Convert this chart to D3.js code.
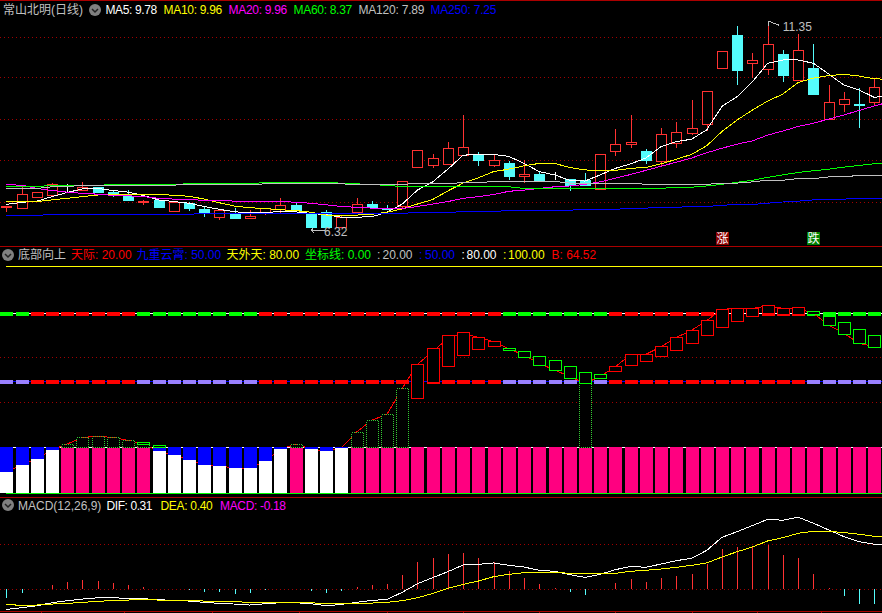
<!DOCTYPE html>
<html><head><meta charset="utf-8">
<script src="https://cdn.jsdelivr.net/npm/d3@7"></script>
<style>
html,body{margin:0;padding:0;background:#000;overflow:hidden}
svg{display:block}
text{font-family:"Liberation Sans",Arial,"Noto Sans CJK SC",sans-serif;font-size:12px}
</style></head><body><svg id="c" width="882" height="613"></svg>
<script>
// ---------- price panel data ----------
const opens=[6.79,6.79,7.04,7.08,7.26,7.22,7.30,7.17,7.07,6.92,6.99,6.72,6.90,6.76,6.56,6.67,6.56,6.67,6.75,6.86,6.64,6.69,6.32,6.67,6.88,6.78,6.83,7.78,7.84,7.84,8.06,8.08,7.84,7.88,7.55,7.61,7.51,7.48,7.46,7.24,8.16,8.33,8.17,7.91,8.35,8.62,8.82,10.18,11.00,10.31,10.16,10.54,9.89,10.20,8.95,9.30,9.32,9.36];
const closes=[6.82,7.12,7.17,7.36,7.26,7.30,7.17,7.09,6.98,6.95,6.81,6.93,6.78,6.66,6.73,6.56,6.60,6.78,6.85,6.73,6.32,6.32,6.56,6.87,6.81,6.75,7.43,8.19,8.00,8.24,8.26,7.95,7.95,7.57,7.60,7.47,7.51,7.34,7.35,8.09,8.34,8.39,7.96,8.58,8.63,8.73,9.63,10.60,10.15,10.39,10.78,10.03,10.63,9.56,9.36,9.43,9.30,9.73];
const highs=[6.84,7.29,7.17,7.39,7.37,7.41,7.30,7.21,7.22,6.98,6.99,6.93,6.93,6.82,6.73,6.78,6.73,6.78,7.02,6.90,6.65,6.73,6.61,7.02,6.95,6.86,7.43,8.19,8.10,8.39,9.05,8.15,8.10,7.93,7.95,7.69,7.65,7.50,7.64,8.09,8.71,9.05,8.22,8.73,8.88,9.42,9.63,10.60,11.22,10.56,11.35,10.64,11.03,10.78,9.78,9.60,9.71,9.95];
const lows=[6.69,6.79,7.04,7.08,7.17,7.22,7.14,7.06,6.98,6.86,6.78,6.69,6.72,6.56,6.49,6.56,6.52,6.62,6.65,6.73,6.32,6.32,6.32,6.67,6.81,6.75,6.78,7.78,7.77,7.84,8.06,7.81,7.79,7.47,7.40,7.43,7.47,7.20,7.33,7.24,8.06,8.25,7.86,7.79,8.25,8.56,8.65,10.18,9.78,9.95,10.03,9.86,9.89,9.56,8.95,9.13,8.74,9.26];
const ma5=[6.87,6.92,6.95,7.06,7.16,7.25,7.26,7.21,7.17,7.09,6.98,6.94,6.90,6.82,6.75,6.69,6.67,6.68,6.69,6.69,6.65,6.62,6.56,6.56,6.57,6.68,6.88,7.22,7.42,7.73,8.07,8.09,8.09,8.04,7.87,7.67,7.59,7.46,7.44,7.59,7.75,7.86,8.00,8.28,8.40,8.46,8.69,9.26,9.50,9.86,10.31,10.39,10.39,10.31,10.05,9.78,9.66,9.48,9.52];
const ma10=[6.94,6.93,6.94,6.98,7.02,7.06,7.10,7.10,7.12,7.12,7.12,7.09,7.07,7.00,6.91,6.83,6.79,6.77,6.74,6.72,6.68,6.61,6.59,6.61,6.63,6.68,6.76,6.88,6.99,7.20,7.39,7.52,7.67,7.73,7.81,7.87,7.87,7.77,7.71,7.70,7.70,7.75,7.77,7.86,7.97,8.09,8.30,8.65,8.93,9.17,9.39,9.56,9.84,9.95,10.01,10.04,10.00,9.93,9.92];
const ma20=[7.35,7.34,7.26,7.21,7.17,7.14,7.12,7.09,7.08,7.06,7.02,7.00,6.99,6.97,6.97,6.95,6.95,6.93,6.95,6.92,6.90,6.86,6.82,6.80,6.78,6.76,6.77,6.82,6.88,6.94,7.02,7.06,7.11,7.19,7.22,7.26,7.30,7.32,7.36,7.42,7.51,7.60,7.70,7.80,7.90,8.00,8.13,8.24,8.34,8.42,8.56,8.66,8.77,8.85,8.95,9.05,9.16,9.27,9.37];
const ma60=[7.31,7.31,7.31,7.33,7.33,7.33,7.33,7.36,7.36,7.35,7.35,7.35,7.38,7.38,7.38,7.38,7.38,7.40,7.40,7.40,7.40,7.40,7.39,7.37,7.36,7.33,7.31,7.31,7.31,7.31,7.31,7.30,7.30,7.30,7.26,7.26,7.26,7.26,7.26,7.26,7.26,7.26,7.26,7.26,7.29,7.29,7.32,7.36,7.41,7.46,7.53,7.59,7.65,7.69,7.73,7.78,7.82,7.86,7.87];
const ma120=[7.26,7.26,7.26,7.30,7.30,7.34,7.34,7.32,7.32,7.34,7.34,7.34,7.36,7.36,7.36,7.36,7.36,7.37,7.37,7.37,7.37,7.37,7.37,7.36,7.36,7.36,7.36,7.38,7.38,7.38,7.40,7.40,7.43,7.43,7.43,7.43,7.43,7.39,7.39,7.39,7.39,7.39,7.36,7.36,7.36,7.36,7.36,7.39,7.39,7.42,7.46,7.46,7.50,7.50,7.54,7.54,7.58,7.58,7.58];
const ma250=[6.60,6.60,6.60,6.63,6.63,6.63,6.63,6.63,6.63,6.63,6.63,6.63,6.63,6.65,6.65,6.65,6.65,6.65,6.65,6.65,6.65,6.65,6.65,6.65,6.65,6.65,6.65,6.68,6.68,6.68,6.69,6.69,6.69,6.73,6.73,6.73,6.73,6.73,6.75,6.75,6.75,6.78,6.78,6.80,6.80,6.82,6.82,6.85,6.87,6.87,6.90,6.93,6.95,6.98,6.98,7.00,7.02,7.02,7.02];
const priceGrid=[10.96,9.97,8.95,7.95,6.92];
// ---------- indicator panel data ----------
const bValues=[9.1,12.2,14.9,18.9,21.5,24.4,24.9,24.4,23.1,21.5,18.4,16.6,14.4,12.2,11.8,10.9,10.9,14.0,19.3,21.4,19.3,18.4,19.7,26.8,32.0,34.6,46.1,56.7,62.3,68.2,70.4,68.6,66.7,63.5,60.8,57.1,54.2,51.3,48.3,51.3,55.7,61.0,61.1,64.5,68.6,71.7,76.1,81.0,81.4,81.4,82.5,81.4,81.4,79.2,74.1,70.4,66.0,64.52];
const boxHigh=[null,null,null,null,null,null,null,null,null,22.2,20.9,null,null,null,null,null,null,null,null,null,null,null,null,null,null,null,null,56.7,63.8,69.5,70.8,68.6,66.9,63.8,62.4,60.2,58.5,55.8,53.2,52.3,55.8,61.1,61.1,64.7,68.6,71.7,76.1,81.0,81.4,81.4,82.8,81.4,81.9,80.1,77.9,75.3,72.2,69.5];
const boxLow=[null,null,null,null,null,null,null,null,null,21.5,20.2,null,null,null,null,null,null,null,null,null,null,null,null,null,null,null,null,41.5,48.7,55.7,60.5,63.2,64.5,62.7,59.6,56.1,53.9,50.4,48.3,50.4,53.5,56.1,57.9,60.1,62.7,65.8,69.4,72.9,75.6,77.8,79.2,78.8,78.8,78.8,73.8,70.2,65.8,64.1];
const fallFlags=[1,1,0,0,0,0,0,0,0,1,1,1,1,1,1,1,1,0,0,0,0,0,0,0,0,0,0,0,0,0,0,0,0,1,1,1,1,1,1,1,0,0,0,0,0,0,0,0,0,0,0,0,0,1,1,1,1,1];
const levelLines=[{v:0,c:"#00ff00"},{v:20,c:"#ffffff"},{v:49.5,c:"#0000ff"},{v:79.5,c:"#ffffff"},{v:100,c:"#ffff00"}];
const indGrid=[60,40];
// ---------- MACD panel data ----------
const hist=[-.105,-.049,0,.045,.075,.098,.086,.064,.041,.015,0,-.008,-.015,-.038,-.038,-.06,-.049,-.019,0,0,-.026,-.049,-.026,.019,.041,.053,.154,.301,.346,.391,.402,.346,.301,.199,.12,.053,.008,-.038,-.071,-.004,.064,.109,.075,.12,.143,.165,.278,.447,.47,.481,.492,.38,.346,.165,.004,-.083,-.173,-.173];
const dif=[-.233,-.214,-.192,-.158,-.135,-.117,-.102,-.102,-.109,-.113,-.124,-.132,-.139,-.154,-.165,-.173,-.184,-.169,-.158,-.158,-.169,-.192,-.177,-.154,-.132,-.12,-.041,.056,.124,.192,.267,.274,.29,.263,.244,.207,.196,.158,.128,.162,.214,.252,.241,.278,.316,.342,.432,.579,.643,.711,.782,.771,.805,.737,.662,.587,.53,.5,.5];
const dea=[-.177,-.188,-.184,-.173,-.165,-.154,-.143,-.132,-.128,-.12,-.128,-.132,-.135,-.139,-.143,-.143,-.158,-.158,-.158,-.158,-.158,-.169,-.169,-.165,-.162,-.154,-.135,-.102,-.053,.004,.049,.086,.135,.162,.18,.184,.184,.173,.173,.173,.173,.196,.207,.222,.241,.263,.29,.357,.417,.47,.538,.575,.624,.647,.647,.632,.613,.59,.59];
const macdGrid=[.5,0];
const dateTicks=[2.3,7.7,13.5,19.2,25,30,35,40,45,49.3,53.5];

const RED="#ff3232",CYAN="#54fcfc",BORDER="#aa0000",GRIDC="#a00000",GRAY="#c0c0c0";
const svg=d3.select("#c");
svg.append("rect").attr("width",882).attr("height",613).attr("fill","#000");

const x=d3.scaleLinear().domain([0,57]).range([6.3,874.3]);
const yP=d3.scaleLinear().domain([6.32,11.35]).range([227,20.6]);
const yI=d3.scaleLinear().domain([0,100]).range([492.7,266.3]);
const yM=d3.scaleLinear().domain([0,.5]).range([588.7,544.3]);
const px=i=>Math.round(x(i));
const snap=v=>Math.round(v)+.5;
const idx=d3.range(58);

function grid(vals,scale){
  svg.append("g").selectAll("line").data(vals).join("line")
    .attr("x1",0).attr("x2",882).attr("y1",d=>snap(scale(d))).attr("y2",d=>snap(scale(d)))
    .attr("stroke",GRIDC).attr("stroke-dasharray","1 3");
}
function curve(vals,scale,color){
  const l=d3.line().x((d,i)=>x(i)).y(d=>scale(d));
  svg.append("path").attr("d",l(vals)).attr("fill","none").attr("stroke",color)
    .attr("stroke-width",1).attr("shape-rendering","crispEdges");
}
function label(xp,y,t,c,len){
  const n=svg.append("text").attr("x",xp).attr("y",y).attr("fill",c).text(t);
  if(len) n.attr("textLength",len);
  return n;
}
function icon(cx,cy){
  svg.append("circle").attr("cx",cx).attr("cy",cy).attr("r",6).attr("fill","#808080");
  svg.append("path").attr("d",`M${cx-3},${cy-1}L${cx},${cy+2}L${cx+3},${cy-1}`).attr("fill","none").attr("stroke","#222").attr("stroke-width",1.5);
}

// ===== price panel =====
grid(priceGrid,yP);
const cand=svg.append("g").selectAll("g").data(idx).join("g");
const col=i=>closes[i]>opens[i]?RED:closes[i]<opens[i]?CYAN:"#ffffff";
cand.append("line").attr("x1",i=>px(i)+.5).attr("x2",i=>px(i)+.5)
  .attr("y1",i=>yP(highs[i])).attr("y2",i=>yP(lows[i]))
  .attr("stroke",col).attr("shape-rendering","crispEdges");
cand.append("rect")
  .attr("x",i=>px(i)-5+.5)
  .attr("width",10)
  .attr("y",i=>snap(yP(Math.max(opens[i],closes[i]))))
  .attr("height",i=>Math.round(Math.abs(yP(opens[i])-yP(closes[i]))))
  .attr("fill",i=>closes[i]>opens[i]?"#000":col(i))
  .attr("stroke",col).attr("shape-rendering","crispEdges");
[[ma5,"#ffffff"],[ma10,"#ffff00"],[ma20,"#ff00ff"],[ma60,"#00ff00"],[ma120,GRAY],[ma250,"#0000ff"]].forEach(([v,c])=>curve(v,yP,c));

// extreme labels
const hi=d3.greatestIndex(highs), lo=d3.leastIndex(lows);
const hx=x(hi), hy=yP(highs[hi]), lx=x(lo), ly=yP(lows[lo]);
svg.append("path").attr("d",`M${hx+11},${hy+4.5}L${hx+3},${hy+1.5}M${hx+.5},${hy+1}h3M${hx+.5},${hy+1}v4`).attr("fill","none").attr("stroke",GRAY).attr("shape-rendering","crispEdges");
label(hx+15,31,"11.35",GRAY);
svg.append("path").attr("d",`M${lx+14},${ly+3.5}H${lx+.5}M${lx+.5},${ly+3.5}l3,3M${lx+.5},${ly+3.5}l2,-3`).attr("fill","none").attr("stroke",GRAY).attr("shape-rendering","crispEdges");
label(324,236,"6.32",GRAY);

// signal badges
[[47,"涨","#8b0000"],[53,"跌","#008000"]].forEach(([i,t,c])=>{
  svg.append("rect").attr("x",px(i)-6).attr("y",232).attr("width",13).attr("height",13).attr("fill",c);
  svg.append("text").attr("x",px(i)+.5).attr("y",243).attr("text-anchor","middle").attr("fill","#fff").text(t);
});

// header 1
label(3,14,"常山北明(日线)",GRAY);
icon(95,10);
label(105.5,14,"MA5: 9.78","#ffffff",51.7);
label(163.5,14,"MA10: 9.96","#ffff00",58.7);
label(228.5,14,"MA20: 9.96","#ff00ff",58.7);
label(293.5,14,"MA60: 8.37","#00ff00",58.7);
label(358.5,14,"MA120: 7.89",GRAY,66);
label(430.5,14,"MA250: 7.25","#0000ff",66);

// ===== indicator panel =====
grid(indGrid,yI);
svg.append("g").selectAll("line").data(levelLines).join("line")
  .attr("x1",x(0)).attr("x2",882).attr("y1",d=>snap(yI(d.v))).attr("y2",d=>snap(yI(d.v)))
  .attr("stroke",d=>d.c).attr("shape-rendering","crispEdges");
[[79.5,"#00ff00"],[49.5,"#9980ff"]].forEach(([v,alt])=>{
  svg.append("g").selectAll("rect").data(idx).join("rect")
    .attr("x",i=>px(i)-6).attr("width",13)
    .attr("y",Math.round(yI(v))-2+.5).attr("height",4)
    .attr("fill",i=>fallFlags[i]?alt:"#ff0000").attr("shape-rendering","crispEdges");
});
curve(bValues,yI,"#ff0000");
const bars=svg.append("g").selectAll("g").data(idx).join("g");
bars.append("rect").attr("x",i=>px(i)-6).attr("width",13)
  .attr("y",yI(20)).attr("height",yI(0)-yI(20))
  .attr("fill",i=>bValues[i]>=20?"#ff0080":"#0000ff").attr("shape-rendering","crispEdges");
bars.filter(i=>bValues[i]<20).append("rect").attr("x",i=>px(i)-6).attr("width",13)
  .attr("y",i=>yI(bValues[i])).attr("height",i=>yI(0)-yI(bValues[i]))
  .attr("fill","#ffffff").attr("shape-rendering","crispEdges");
svg.append("g").selectAll("rect").data(idx.filter(i=>bValues[i]>20&&bValues[i]<50)).join("rect")
  .attr("x",i=>px(i)-6+.5).attr("width",12)
  .attr("y",i=>snap(yI(bValues[i]))).attr("height",i=>Math.round(yI(20)-yI(bValues[i])))
  .attr("fill","#000").attr("stroke","#33cc33").attr("stroke-dasharray","1 1").attr("shape-rendering","crispEdges");
svg.append("g").selectAll("rect").data(idx.filter(i=>boxHigh[i]!==null)).join("rect")
  .attr("x",i=>px(i)-6+.5).attr("width",12)
  .attr("y",i=>snap(yI(boxHigh[i]))).attr("height",i=>Math.round(yI(boxLow[i])-yI(boxHigh[i])))
  .attr("fill","#000").attr("stroke",i=>fallFlags[i]?"#00ff00":"#ff0000").attr("shape-rendering","crispEdges");

icon(8,255);
label(18,259,"底部向上",GRAY);
label(71,259,"天际: 20.00","#ff0000");
label(136.5,259,"九重云霄: 50.00","#0000ff");
label(226.5,259,"天外天: 80.00","#ffff00");
label(305,259,"坐标线: 0.00","#00ff00");
label(377,259,":",GRAY);
label(382.5,259,"20.00",GRAY);
label(419,259,":","#0000ff");
label(425,259,"50.00","#0000ff");
label(461.5,259,":","#ffffff");
label(466.5,259,"80.00","#ffffff");
label(503,259,":","#ffff00");
label(508,259,"100.00","#ffff00");
label(551.5,259,"B: 64.52","#ff0000");

// ===== MACD panel =====
grid(macdGrid,yM);
svg.append("g").selectAll("line").data(idx.filter(i=>hist[i]!==0)).join("line")
  .attr("x1",i=>px(i)+.5).attr("x2",i=>px(i)+.5)
  .attr("y1",yM(0)).attr("y2",i=>yM(hist[i]))
  .attr("stroke",i=>hist[i]>0?RED:CYAN).attr("shape-rendering","crispEdges");
curve(dif,yM,"#ffffff");
curve(dea,yM,"#ffff00");
icon(8,505);
label(18,510,"MACD(12,26,9)",GRAY);
label(106.5,510,"DIF: 0.31","#ffffff",46);
label(160.5,510,"DEA: 0.40","#ffff00",52.3);
label(220,510,"MACD: -0.18","#ff00ff",66);

// ===== frame =====
[0,246,497,611].forEach(y=>{
  svg.append("line").attr("x1",0).attr("x2",882).attr("y1",y+.5).attr("y2",y+.5)
    .attr("stroke",BORDER).attr("shape-rendering","crispEdges");
});
const axis=d3.axisBottom(x).tickValues(dateTicks).tickSize(2).tickFormat("");
const ag=svg.append("g").attr("transform","translate(0,611)").call(axis);
ag.select(".domain").remove();
ag.selectAll("line").attr("stroke",BORDER).attr("shape-rendering","crispEdges");
</script></body></html>
